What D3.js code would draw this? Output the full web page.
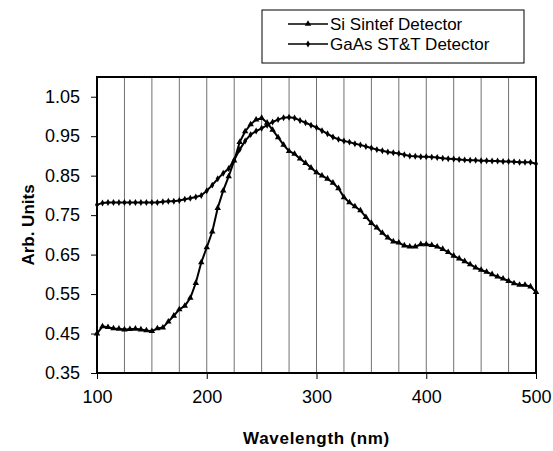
<!DOCTYPE html>
<html>
<head>
<meta charset="utf-8">
<script src="https://cdn.jsdelivr.net/npm/d3@7"></script>
<style>
  body { margin: 0; background: #fff; }
  text { font-family: "Liberation Sans", Arial, sans-serif; fill: #000; }
</style>
</head>
<body>
<div id="chart"></div>
<script>
// wavelength grid of the measurements (nm), 5 nm steps
var wavelengths = d3.range(100, 501, 5);

// Si Sintef detector response (arb. units)
var siValues = [
  0.450, 0.468, 0.466, 0.463, 0.462, 0.460, 0.461, 0.462, 0.460, 0.458,
  0.456, 0.463, 0.465, 0.480, 0.495, 0.511, 0.520, 0.540, 0.578, 0.630,
  0.668, 0.708, 0.768, 0.812, 0.848, 0.888, 0.935, 0.962, 0.980, 0.992,
  0.996, 0.984, 0.966, 0.947, 0.928, 0.912, 0.905, 0.893, 0.882, 0.870,
  0.858, 0.850, 0.842, 0.832, 0.818, 0.795, 0.782, 0.772, 0.762, 0.745,
  0.730, 0.718, 0.705, 0.693, 0.683, 0.680, 0.673, 0.670, 0.670, 0.676,
  0.676, 0.674, 0.670, 0.664, 0.656, 0.647, 0.640, 0.633, 0.625, 0.617,
  0.611, 0.606, 0.600, 0.594, 0.589, 0.583, 0.577, 0.573, 0.573, 0.569,
  0.555
];

// GaAs ST&T detector response (arb. units)
var gaasValues = [
  0.776, 0.781, 0.782, 0.782, 0.782, 0.782, 0.782, 0.782, 0.782, 0.782,
  0.782, 0.782, 0.784, 0.785, 0.785, 0.787, 0.790, 0.793, 0.796, 0.800,
  0.812, 0.826, 0.842, 0.856, 0.868, 0.890, 0.916, 0.938, 0.954, 0.963,
  0.970, 0.978, 0.986, 0.992, 0.997, 0.998, 0.996, 0.990, 0.984, 0.978,
  0.972, 0.964, 0.956, 0.948, 0.942, 0.938, 0.935, 0.931, 0.928, 0.924,
  0.920, 0.916, 0.913, 0.910, 0.908, 0.906, 0.903, 0.900, 0.899, 0.898,
  0.898, 0.897, 0.896, 0.894, 0.893, 0.892, 0.891, 0.890, 0.889, 0.889,
  0.888, 0.888, 0.887, 0.887, 0.886, 0.886, 0.885, 0.884, 0.884, 0.884,
  0.880
];

var xTicks = [100, 200, 300, 400, 500];
var xGrid = d3.range(125, 500, 25);
var yTicks = [0.35, 0.45, 0.55, 0.65, 0.75, 0.85, 0.95, 1.05];
var seriesNames = ["Si Sintef Detector", "GaAs ST&T Detector"];

var W = 553, H = 451;
var margin = { top: 77, right: 17, bottom: 78, left: 97 },
    width  = W - margin.left - margin.right,
    height = H - margin.top - margin.bottom;

var svg = d3.select("#chart").append("svg")
    .attr("width", W)
    .attr("height", H);

var g = svg.append("g")
    .attr("transform", `translate(${margin.left},${margin.top})`);

var x = d3.scaleLinear().domain([100, 500]).range([0, width]);
var y = d3.scaleLinear().domain([0.35, 1.10]).range([height, 0]);

// vertical gridlines
g.selectAll(".grid")
  .data(xGrid)
  .enter().append("line")
  .attr("x1", d => x(d)).attr("x2", d => x(d))
  .attr("y1", 0).attr("y2", height)
  .attr("stroke", "#707070")
  .attr("stroke-width", 1);

// axes
var yAxis = g.append("g")
  .call(d3.axisLeft(y).tickValues(yTicks).tickSize(6).tickFormat(d3.format(".2f")));
var xAxis = g.append("g")
  .attr("transform", `translate(0,${height})`)
  .call(d3.axisBottom(x).tickValues(xTicks).tickSize(6).tickFormat(d3.format("d")));

[yAxis, xAxis].forEach(a => {
  a.select(".domain").remove();
  a.selectAll("line").attr("stroke", "#000").attr("stroke-width", 1);
  a.selectAll("text").style("font-size", "18px").attr("font-family", null);
});
yAxis.selectAll("text").attr("x", -17);
xAxis.selectAll("text").attr("y", 17);

// plot frame
g.append("rect")
  .attr("x", 0).attr("y", 0)
  .attr("width", width).attr("height", height)
  .attr("fill", "none")
  .attr("stroke", "#000")
  .attr("stroke-width", 2);

var line = d3.line().x(d => x(d[0])).y(d => y(d[1]));
var siData = wavelengths.map((w, i) => [w, siValues[i]]);
var gaasData = wavelengths.map((w, i) => [w, gaasValues[i]]);

var triangle = d3.symbol().type(d3.symbolTriangle).size(18);
var diamond = d3.symbol().type(d3.symbolDiamond).size(14);

function drawSeries(data, sym) {
  g.append("path")
    .datum(data)
    .attr("fill", "none")
    .attr("stroke", "#000")
    .attr("stroke-width", 2)
    .attr("d", line);
  g.selectAll(null)
    .data(data)
    .enter().append("path")
    .attr("transform", d => `translate(${x(d[0])},${y(d[1])})`)
    .attr("d", sym)
    .attr("fill", "#000");
}
drawSeries(gaasData, diamond);
drawSeries(siData, triangle);

// axis titles
svg.append("text")
  .attr("transform", `translate(34,${margin.top + height / 2}) rotate(-90)`)
  .attr("text-anchor", "middle")
  .style("font-size", "17px")
  .style("font-weight", "bold")
  .text("Arb. Units");

svg.append("text")
  .attr("x", margin.left + width / 2)
  .attr("y", 444)
  .attr("text-anchor", "middle")
  .style("font-size", "17px")
  .style("font-weight", "bold")
  .style("letter-spacing", "0.7px")
  .text("Wavelength (nm)");

// legend
var legend = svg.append("g").attr("transform", "translate(262,10)");
legend.append("rect")
  .attr("width", 262).attr("height", 53)
  .attr("fill", "#fff")
  .attr("stroke", "#000")
  .attr("stroke-width", 1);

var legendRows = legend.selectAll(".lg")
  .data(seriesNames)
  .enter().append("g")
  .attr("transform", (d, i) => `translate(0,${14 + i * 20})`);
legendRows.append("line")
  .attr("x1", 26).attr("x2", 66)
  .attr("stroke", "#000").attr("stroke-width", 1.5);
legendRows.append("path")
  .attr("transform", "translate(46,0)")
  .attr("d", (d, i) => i === 0 ? triangle() : diamond())
  .attr("fill", "#000");
legendRows.append("text")
  .attr("x", 68).attr("dy", "0.35em")
  .style("font-size", "17px")
  .text(d => d);
</script>
</body>
</html>
